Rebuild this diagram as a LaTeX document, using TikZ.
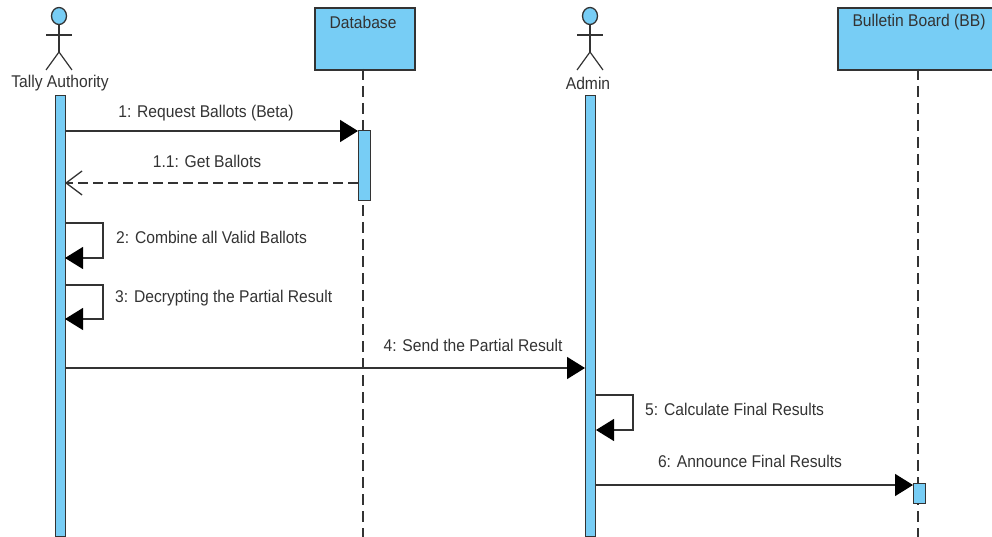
\documentclass[tikz,border=0pt]{standalone}
\usepackage{fontspec}
\setmainfont[FakeStretch=0.92]{Liberation Sans}
\usetikzlibrary{arrows.meta,shapes.geometric}
\definecolor{umlblue}{HTML}{77CDF5}
\definecolor{umlline}{HTML}{333333}
\tikzset{
  x=1pt,y=-1pt,
  lbl/.style={font=\fontsize{17}{19}\selectfont,text=black!80,inner sep=0pt},
  objbox/.style={draw=umlline,line width=1.6pt,fill=umlblue,minimum width=100pt,minimum height=62pt,inner sep=0pt},
  bar/.style={draw=umlline,line width=1.2pt,fill=umlblue,inner sep=0pt},
  lifeline/.style={draw=umlline,line width=1.4pt,dash pattern=on 11pt off 6pt},
  msg/.style={draw=umlline,line width=1.5pt,-{Triangle[length=18pt,width=22pt,color=black]}},
  selfmsg/.style={draw=umlline,line width=1.1pt,-{Triangle[length=18pt,width=22pt,color=black]}},
  reply/.style={draw=umlline,line width=1.5pt,dash pattern=on 10pt off 5pt,-{Straight Barb[length=16pt,width=24pt,line width=1.3pt,color=umlline]}},
  limb/.style={draw=umlline,line width=1.2pt},
}
\newcommand{\stick}[2]{%
  \node[draw=umlline,line width=1.3pt,fill=umlblue,ellipse,minimum width=15pt,minimum height=17pt,inner sep=0pt] (#2head) at (#1,16) {};
  \coordinate (#2hip) at (#1,52);
  \coordinate (#2l) at (#1-13,35);
  \coordinate (#2r) at (#1+13,35);
  \coordinate (#2fl) at (#1-13,70);
  \coordinate (#2fr) at (#1+13,70);
  \draw[limb] (#2head) -- (#2hip);
  \draw[limb] (#2l) -- (#2r);
  \draw[limb] (#2fl) -- (#2hip) -- (#2fr);
}
\begin{document}
\begin{tikzpicture}
\useasboundingbox (0,0) rectangle (992,537);
\clip (0,0) rectangle (992,537);
% actors
\stick{59}{ta}
\stick{590}{ad}
\node[lbl] (talabel) at (60,83) {Tally Authority};
\node[lbl] (adlabel) at (588,83) {Admin};
% objects
\node[objbox,anchor=north west] (db) at (314,7) {};
\node[objbox,anchor=north west,minimum width=170pt] (bb) at (837,7) {};
\node[lbl] (dblabel) at (363,22) {Database};
\node[lbl] (bblabel) at (919,22) {Bulletin Board (BB)};
% lifelines
\coordinate (dbend) at (363,537);
\coordinate (bbend) at (918,537);
\coordinate (dbtop) at (363,69);
\coordinate (bbtop) at (918,69);
\draw[lifeline] (dbtop) -- (dbend);
\draw[lifeline] (bbtop) -- (bbend);
% activations
\node[bar,anchor=north west,minimum width=10pt,minimum height=441pt] (tabar) at (55,95) {};
\node[bar,anchor=north west,minimum width=10pt,minimum height=441pt] (adbar) at (585,95) {};
\node[bar,anchor=north west,minimum width=12pt,minimum height=70pt] (dbbar) at (358,130) {};
\node[bar,anchor=north west,minimum width=12pt,minimum height=20pt] (bbbar) at (913,483) {};
% messages
\coordinate (m1a) at (65,131);   \coordinate (m1b) at (358,131);
\coordinate (m11a) at (358,183); \coordinate (m11b) at (65,183);
\coordinate (m2a) at (65,223);   \coordinate (m2b) at (103,223);
\coordinate (m2c) at (103,258);  \coordinate (m2d) at (65,258);
\coordinate (m3a) at (65,285);   \coordinate (m3b) at (103,285);
\coordinate (m3c) at (103,319);  \coordinate (m3d) at (65,319);
\coordinate (m4a) at (65,368);   \coordinate (m4b) at (585,368);
\coordinate (m5a) at (596,395);  \coordinate (m5b) at (633,395);
\coordinate (m5c) at (633,430);  \coordinate (m5d) at (596,430);
\coordinate (m6a) at (596,485);  \coordinate (m6b) at (913,485);
\draw[msg] (m1a) -- (m1b);
\draw[reply] (m11a) -- (m11b);
\draw[selfmsg] (m2a) -- (m2b) -- (m2c) -- (m2d);
\draw[selfmsg] (m3a) -- (m3b) -- (m3c) -- (m3d);
\draw[msg] (m4a) -- (m4b);
\draw[selfmsg] (m5a) -- (m5b) -- (m5c) -- (m5d);
\draw[msg] (m6a) -- (m6b);
% labels
\node[lbl] (t1) at (206,113) {1: Request Ballots (Beta)};
\node[lbl] (t11) at (207,161) {1.1: Get Ballots};
\node[lbl,anchor=west] (t2) at (116,237) {2: Combine all Valid Ballots};
\node[lbl,anchor=west] (t3) at (115,298) {3: Decrypting the Partial Result};
\node[lbl] (t4) at (473,345) {4: Send the Partial Result};
\node[lbl,anchor=west] (t5) at (645,409) {5: Calculate Final Results};
\node[lbl] (t6) at (750,461) {6: Announce Final Results};
\end{tikzpicture}
\end{document}
